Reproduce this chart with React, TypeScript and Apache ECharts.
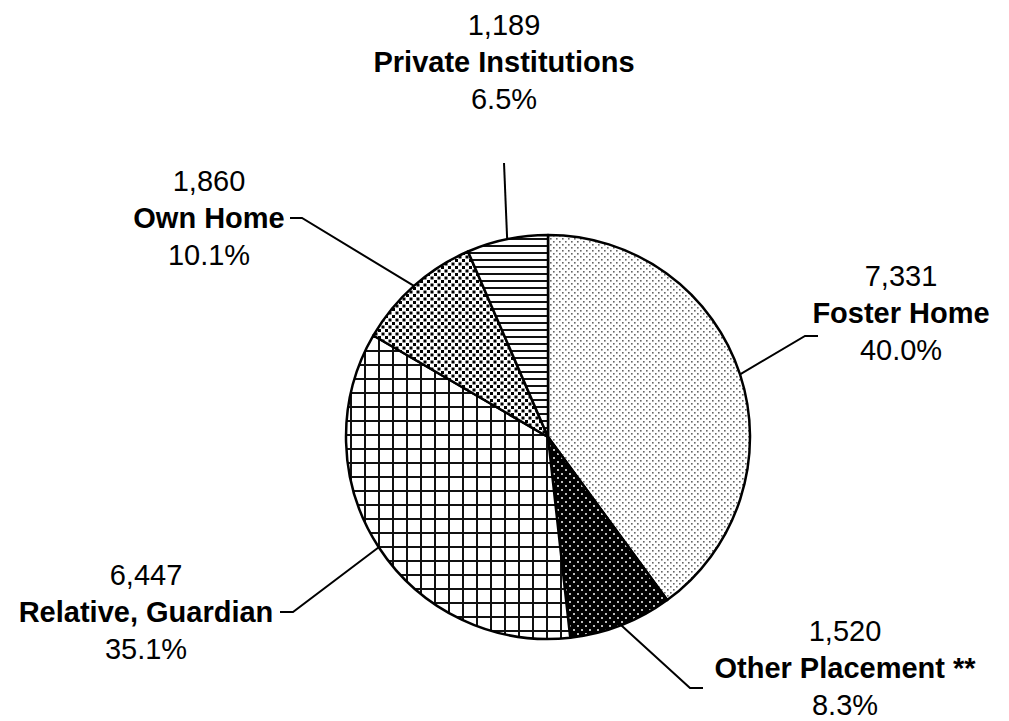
import React, { useEffect, useRef } from "react";
import * as echarts from "echarts";

const categories = ["Foster Home", "Other Placement **", "Relative, Guardian", "Own Home", "Private Institutions"];
const values = [7331, 1520, 6447, 1860, 1189];

// label layout: [labelCenterX, labelCenterY, bendX, bendY, endX, endY]
const LABEL_POS: number[][] = [
  [901, 313, 805, 336, 818, 336],
  [845, 668, 690, 688, 703, 688],
  [146, 612, 293, 612, 280, 612],
  [209, 218, 302, 218, 290, 218],
  [504, 62, 504, 163, 504, 163],
];

function makeCanvas(w: number, h: number, draw: (ctx: CanvasRenderingContext2D) => void) {
  const c = document.createElement("canvas");
  c.width = w;
  c.height = h;
  const ctx = c.getContext("2d")!;
  draw(ctx);
  return { image: c, repeat: "repeat", imageWidth: w, imageHeight: h } as any;
}

function patterns() {
  const foster = makeCanvas(6, 6, (ctx) => {
    ctx.fillStyle = "#fff";
    ctx.fillRect(0, 0, 6, 6);
    ctx.fillStyle = "#666";
    ctx.fillRect(1, 1, 1.6, 1.6);
    ctx.fillRect(4, 4, 1.6, 1.6);
  });
  const other = makeCanvas(8, 8, (ctx) => {
    ctx.fillStyle = "#000";
    ctx.fillRect(0, 0, 8, 8);
    ctx.fillStyle = "#bbb";
    ctx.fillRect(1, 1, 2, 2);
    ctx.fillRect(5, 5, 2, 2);
  });
  const relative = makeCanvas(14, 14, (ctx) => {
    ctx.fillStyle = "#fff";
    ctx.fillRect(0, 0, 14, 14);
    ctx.fillStyle = "#111";
    ctx.fillRect(0, 0, 2, 14);
    ctx.fillRect(0, 0, 14, 2);
  });
  const own = makeCanvas(7, 7, (ctx) => {
    ctx.fillStyle = "#fff";
    ctx.fillRect(0, 0, 7, 7);
    ctx.fillStyle = "#000";
    ctx.fillRect(0, 0, 3, 3);
    ctx.fillRect(3.5, 3.5, 3, 3);
  });
  const priv = makeCanvas(4, 7, (ctx) => {
    ctx.fillStyle = "#fff";
    ctx.fillRect(0, 0, 4, 7);
    ctx.fillStyle = "#111";
    ctx.fillRect(0, 0, 4, 2);
  });
  return [foster, other, relative, own, priv];
}

export default function App() {
  const ref = useRef<HTMLDivElement>(null);
  useEffect(() => {
    if (!ref.current) return;
    const chart = echarts.init(ref.current, undefined, { renderer: "svg" });
    const total = values.reduce((a, b) => a + b, 0);
    const pats = patterns();
    const data = categories.map((name, i) => ({
      name,
      value: values[i],
      itemStyle: { color: pats[i] },
    }));
    const font = "Liberation Sans, Arial, sans-serif";
    chart.setOption({
      animation: false,
      backgroundColor: "#fff",
      series: [
        {
          type: "pie",
          center: [548, 437],
          radius: 202,
          startAngle: 90,
          clockwise: true,
          avoidLabelOverlap: false,
          data,
          itemStyle: { borderColor: "#000", borderWidth: 2.5 },
          emphasis: { disabled: true },
          label: {
            show: true,
            position: "outside",
            color: "#000",
            fontFamily: font,
            formatter: (p: any) =>
              `{v|${p.value.toLocaleString("en-US")}}\n{n|${p.name}}\n{v|${((p.value / total) * 100).toFixed(1)}%}`,
            rich: {
              v: { fontSize: 29, lineHeight: 37, fontFamily: font, color: "#000" },
              n: { fontSize: 29, lineHeight: 37, fontWeight: "bold", fontFamily: font, color: "#000" },
            },
          },
          labelLine: { show: true, lineStyle: { color: "#000", width: 2 } },
          labelLayout: (params: any) => {
            const p = LABEL_POS[params.dataIndex];
            const start = params.labelLinePoints ? params.labelLinePoints[0] : [p[2], p[3]];
            return {
              x: p[0],
              y: p[1],
              align: "center",
              verticalAlign: "middle",
              labelLinePoints: [start, [p[2], p[3]], [p[4], p[5]]],
            };
          },
        },
      ],
    });
    return () => chart.dispose();
  }, []);
  return <div ref={ref} style={{ position: "fixed", left: 0, top: 0, width: 1009, height: 721 }} />;
}
